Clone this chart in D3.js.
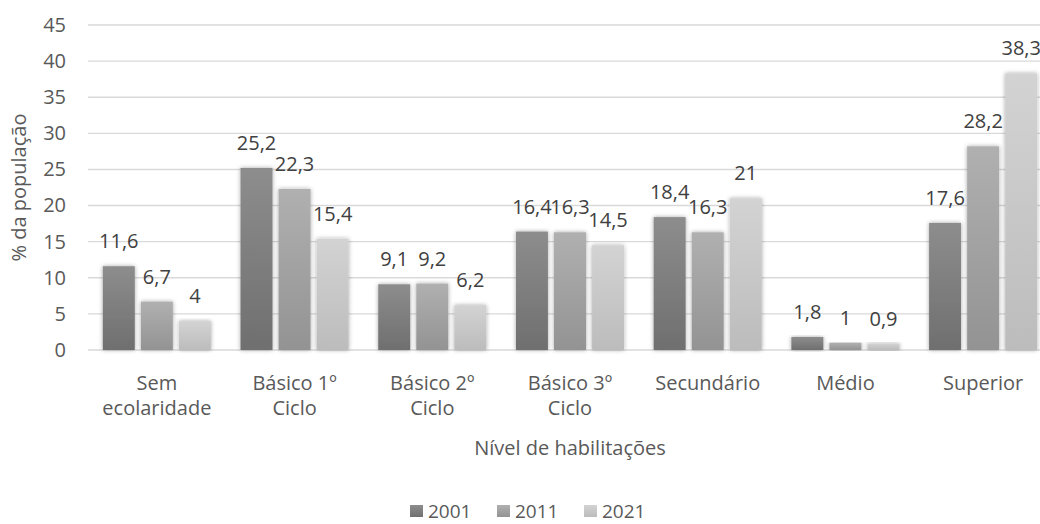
<!DOCTYPE html>
<html>
<head>
<meta charset="utf-8">
<script src="https://cdn.jsdelivr.net/npm/d3@7"></script>
<style>
  html, body { margin: 0; padding: 0; background: #fff; }
  svg { display: block; font-family: "Open Sans", "Noto Sans", sans-serif; }
</style>
</head>
<body>
<svg id="chart" width="1040" height="524"></svg>
<script>
// Education level categories (two-line labels)
const categories = ["Sem ecolaridade", "Básico 1º Ciclo", "Básico 2º Ciclo", "Básico 3º Ciclo", "Secundário", "Médio", "Superior"];
const categoryLines = [["Sem", "ecolaridade"], ["Básico 1º", "Ciclo"], ["Básico 2º", "Ciclo"], ["Básico 3º", "Ciclo"], ["Secundário"], ["Médio"], ["Superior"]];
const years = ["2001", "2011", "2021"];
const values2001 = [11.6, 25.2, 9.1, 16.4, 18.4, 1.8, 17.6];
const values2011 = [6.7, 22.3, 9.2, 16.3, 16.3, 1.0, 28.2];
const values2021 = [4.0, 15.4, 6.2, 14.5, 21.0, 0.9, 38.3];
const yTicks = [0, 5, 10, 15, 20, 25, 30, 35, 40, 45];

const series = [values2001, values2011, values2021];
const gradStops = [["#8d8d8d", "#6f6f6f"], ["#b0b0b0", "#939393"], ["#d3d3d3", "#bcbcbc"]];

const svg = d3.select("#chart");
const margin = { left: 88, right: -12, top: 25, bottom: 174 };
const W = 1040, H = 524;
const plotRight = W - margin.right;
const plotBottom = H - margin.bottom;
const FS = 20;

const defs = svg.append("defs");
gradStops.forEach((s, i) => {
  const g = defs.append("linearGradient").attr("id", "grad" + i)
    .attr("x1", 0).attr("y1", 0).attr("x2", 0).attr("y2", 1);
  g.append("stop").attr("offset", "0%").attr("stop-color", s[0]);
  g.append("stop").attr("offset", "100%").attr("stop-color", s[1]);
});
const f = defs.append("filter").attr("id", "glow")
  .attr("x", "-30%").attr("y", "-10%").attr("width", "160%").attr("height", "120%");
f.append("feDropShadow").attr("dx", 0).attr("dy", 0).attr("stdDeviation", 2.2)
  .attr("flood-color", "#000").attr("flood-opacity", 0.35);

const x0 = d3.scaleBand().domain(categories).range([margin.left, plotRight])
  .paddingInner(0.215).paddingOuter(0.1075);
const x1 = d3.scaleBand().domain(years).range([0, x0.bandwidth()]).paddingInner(0.16);
const y = d3.scaleLinear().domain([0, 45]).range([plotBottom, margin.top]);

// Gridlines
svg.append("g").selectAll("line").data(yTicks).join("line")
  .attr("x1", margin.left).attr("x2", plotRight)
  .attr("y1", d => y(d)).attr("y2", d => y(d))
  .attr("stroke", "#d9d9d9").attr("stroke-width", 1.4);

// Y axis tick labels
const yAxis = d3.axisLeft(y).tickValues(yTicks).tickSize(0).tickPadding(0);
const ya = svg.append("g").attr("transform", `translate(${margin.left - 22},0)`).call(yAxis);
ya.select(".domain").remove();
ya.selectAll("text").attr("font-size", FS).attr("fill", "#595959")
  .style("font-family", "'Open Sans', sans-serif");

// Bars
const groups = svg.append("g").selectAll("g").data(categories).join("g")
  .attr("transform", d => `translate(${x0(d)},0)`);
groups.selectAll("rect").data((c, ci) => years.map((yr, si) => ({ yr, si, v: series[si][ci] })))
  .join("rect")
  .attr("x", d => x1(d.yr)).attr("width", x1.bandwidth())
  .attr("y", d => y(d.v)).attr("height", d => y(0) - y(d.v))
  .attr("fill", d => `url(#grad${d.si})`)
  .attr("filter", "url(#glow)");

// Value labels
groups.selectAll("text.val").data((c, ci) => years.map((yr, si) => ({ yr, si, v: series[si][ci] })))
  .join("text").attr("class", "val")
  .attr("x", d => x1(d.yr) + x1.bandwidth() / 2)
  .attr("y", d => y(d.v) - 18)
  .attr("text-anchor", "middle").attr("font-size", FS).attr("fill", "#404040")
  .text(d => String(d.v).replace(".", ","));

// Category labels
const cl = svg.append("g").selectAll("text").data(categories).join("text")
  .attr("x", d => x0(d) + x0.bandwidth() / 2)
  .attr("y", 390)
  .attr("text-anchor", "middle").attr("font-size", FS).attr("fill", "#595959");
cl.each(function (d, i) {
  d3.select(this).selectAll("tspan").data(categoryLines[i]).join("tspan")
    .attr("x", x0(d) + x0.bandwidth() / 2)
    .attr("dy", (t, j) => j === 0 ? 0 : 25)
    .text(t => t);
});

// Axis titles
svg.append("text").attr("x", (margin.left + plotRight) / 2).attr("y", 455)
  .attr("text-anchor", "middle").attr("font-size", FS).attr("fill", "#595959")
  .text("Nível de habilitações");
svg.append("text").attr("transform", `translate(26,${(margin.top + plotBottom) / 2}) rotate(-90)`)
  .attr("text-anchor", "middle").attr("font-size", FS).attr("fill", "#595959")
  .text("% da população");

// Legend
const legend = svg.append("g").attr("transform", "translate(410,505)");
const li = legend.selectAll("g").data(years).join("g")
  .attr("transform", (d, i) => `translate(${i * 87},0)`);
li.append("rect").attr("width", 13).attr("height", 12).attr("fill", (d, i) => `url(#grad${i})`);
li.append("text").attr("x", 18).attr("y", 12.5).attr("font-size", 19).attr("fill", "#595959").text(d => d);
</script>
</body>
</html>
